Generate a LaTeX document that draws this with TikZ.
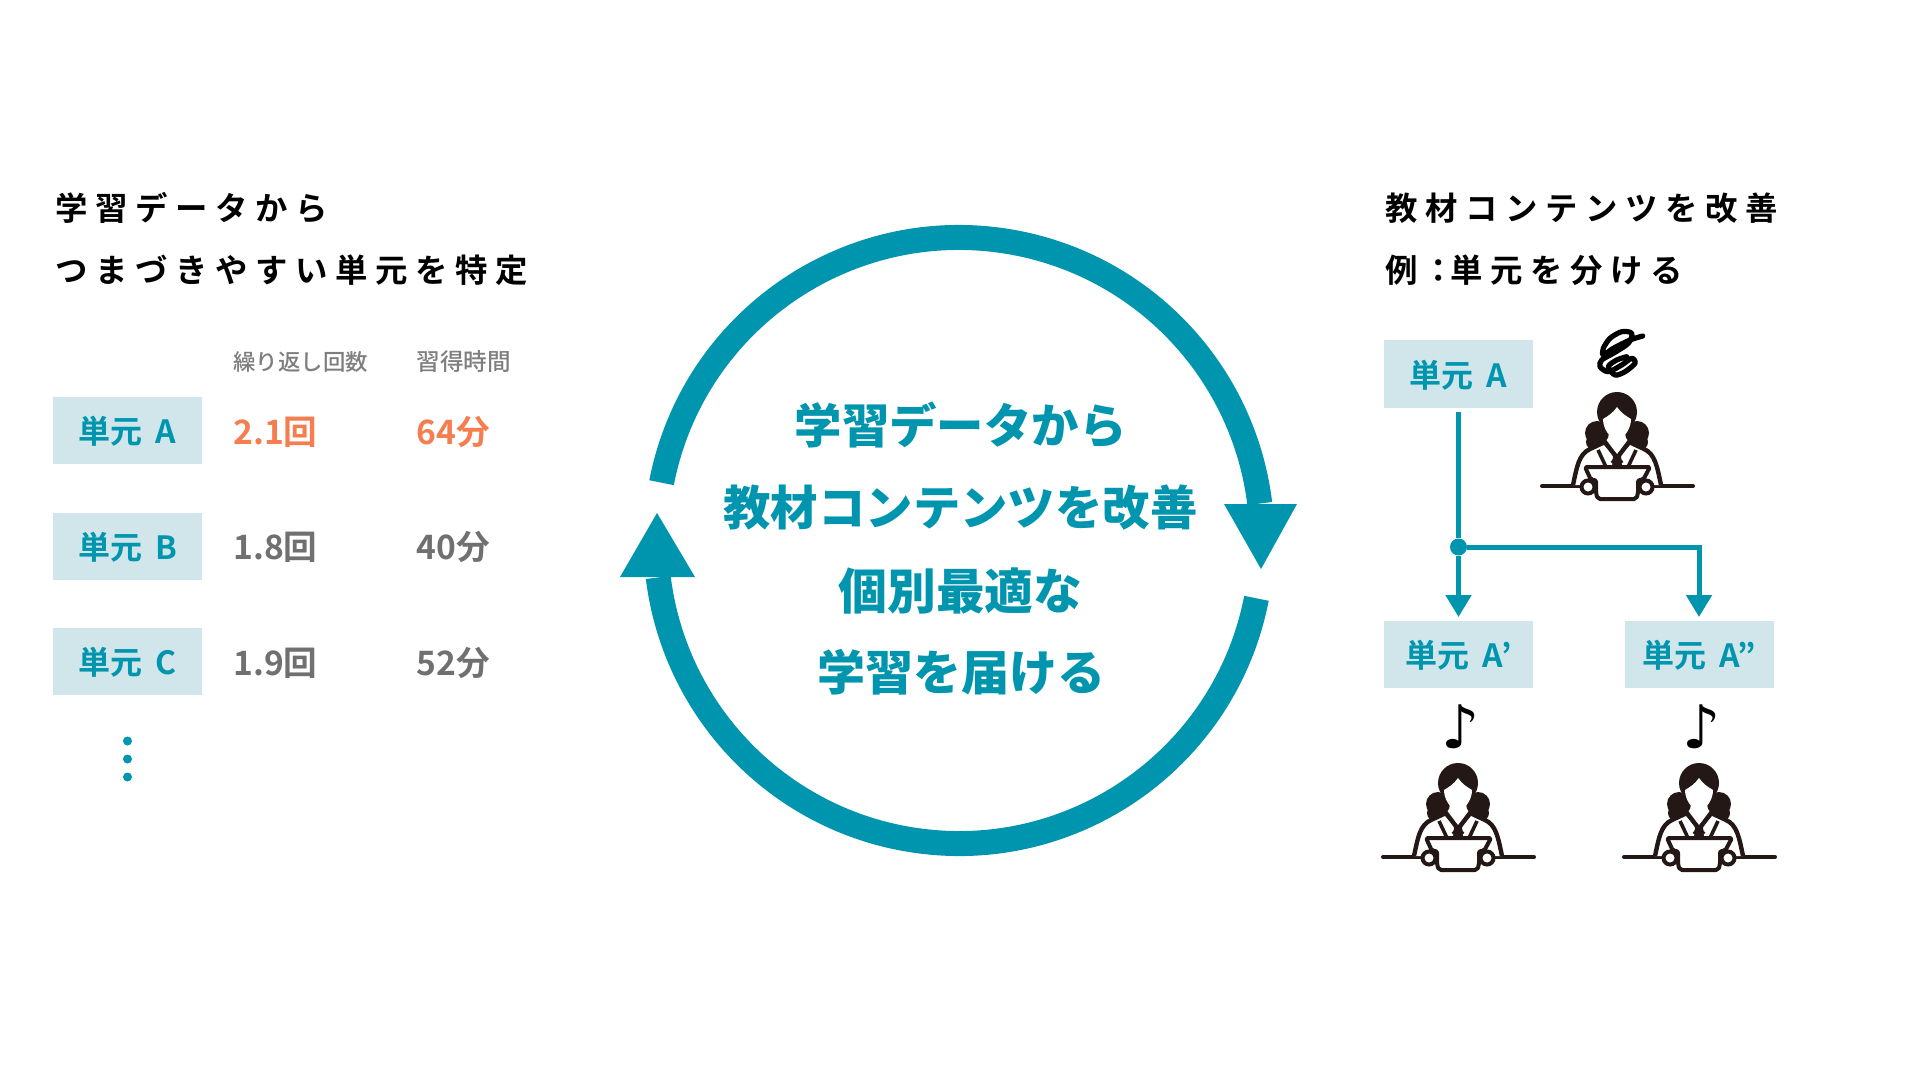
\documentclass[tikz,border=0pt]{standalone}
\usepackage{fontspec}
\usepackage{xcolor}
\usepackage{tikz}
\usetikzlibrary{arrows.meta}
\setmainfont{Noto Sans CJK JP Medium}
\newfontfamily\labelfont{Noto Sans CJK JP Bold}
\newfontfamily\headfont[LetterSpace=23.5]{Noto Sans CJK JP Bold}
\newfontfamily\hubfont{Noto Sans CJK JP Black}
\newfontfamily\notefont{DejaVu Sans}
\definecolor{tealmain}{HTML}{0095AE}
\definecolor{tealpale}{HTML}{D0E6EA}
\definecolor{orangehi}{HTML}{F47E50}
\definecolor{graytext}{HTML}{707070}
\definecolor{inkdark}{HTML}{231815}
\tikzset{
    unitbox/.style={fill=tealpale, text=tealmain, minimum width=74.5pt, minimum height=33.5pt, inner sep=0pt, outer sep=2pt, text height=15pt, text depth=2pt, font=\labelfont\fontsize{16}{16}\selectfont},
    headtext/.style={anchor=base west, inner sep=0pt, font=\headfont\fontsize{16.2}{16.2}\selectfont},
    coltext/.style={anchor=base west, inner sep=0pt, text=graytext!90, font=\fontsize{11.2}{11.2}\selectfont},
    valtext/.style={anchor=base west, inner sep=0pt, text=graytext, font=\labelfont\fontsize{16.8}{16.8}\selectfont},
    hitext/.style={valtext, text=orangehi},
    hubtext/.style={inner sep=0pt, text=tealmain, font=\hubfont\fontsize{23.7}{23.7}\selectfont},
    notetext/.style={inner sep=0pt, font=\notefont\fontsize{30}{30}\selectfont},
    link/.style={draw=tealmain, line width=2.5pt},
    linkhead/.style={link, -{Triangle[length=11pt, width=12.5pt]}},
    pics/deskperson/.style={code={
        % desk
        \draw[inkdark, line width=2pt, line cap=round] (-75,0) -- (76,0);
        % hair
        \fill[inkdark] (0,-74) circle (20);
        \fill[inkdark] (-20,-53) circle (12) (20,-53) circle (12) (-23,-44) circle (8) (23,-44) circle (8);
        % body
        \draw[inkdark, line width=2.2pt, fill=white] (-44,-1) .. controls (-40,-20) and (-38,-32) .. (-27,-37) -- (-12,-44) -- (0,-28) -- (12,-44) -- (27,-37) .. controls (38,-32) and (40,-20) .. (44,-1);
        \draw[inkdark, line width=1.8pt] (-13,-44) -- (5,-23) (13,-44) -- (-5,-23) (-19,-36) -- (-11,-19) (19,-36) -- (11,-19);
        \fill[inkdark] (-4,-30) -- (4,-30) -- (5,-19) -- (-5,-19) -- cycle;
        % face
        \fill[white] (0,-79) .. controls (-4,-73) and (-9,-70) .. (-14,-67) .. controls (-14,-58) and (-8,-48) .. (0,-46) .. controls (8,-48) and (14,-58) .. (14,-67) .. controls (9,-70) and (4,-73) .. (0,-79);
        % tablet
        \draw[inkdark, line width=2pt, line join=round, rounded corners=1pt, fill=white] (-32,-19) -- (33,-19) -- (26,-6) -- (21,-6) -- (21,8) -- (19,13) -- (-19,13) -- (-21,8) -- (-21,-6) -- (-26,-6) -- cycle;
        \draw[inkdark, line width=2pt, fill=white] (-29,1) circle (6.5) (29,1) circle (6.5);
    }},
}
\begin{document}
\begin{tikzpicture}[x=0.5pt, y=-0.5pt]
    \useasboundingbox (0,0) rectangle (1920,1080);

    % left column
    \node[headtext] (lefthead1) at (55,221) {学習データから};
    \node[headtext] (lefthead2) at (55,283) {つまづきやすい単元を特定};
    \node[coltext] (colrepeat) at (233,371) {繰り返し回数};
    \node[coltext, font=\fontsize{11.8}{11.8}\selectfont] (coltime) at (416,371) {習得時間};

    \node[unitbox] (unitA) at (127.5,430.5) {単元\kern6.5pt A};
    \node[unitbox] (unitB) at (127.5,546) {単元\kern6.5pt B};
    \node[unitbox] (unitC) at (127.5,661.5) {単元\kern6.5pt C};
    \node[hitext] (repeatA) at (233,444) {2.1回};
    \node[hitext] (timeA) at (416,444) {64分};
    \node[valtext] (repeatB) at (233,559) {1.8回};
    \node[valtext] (timeB) at (416,559) {40分};
    \node[valtext] (repeatC) at (233,675) {1.9回};
    \node[valtext] (timeC) at (416,675) {52分};
    \fill[tealmain] (127.5,741) circle (4.5) (127.5,759) circle (4.5) (127.5,777) circle (4.5);

    % centre cycle
    \coordinate (hub) at (959,540.5);
    \draw[tealmain, line width=12.5pt] (hub) ++(191:303) arc[start angle=191, end angle=353, radius=303];
    \draw[tealmain, line width=12.5pt] (hub) ++(11:303) arc[start angle=11, end angle=173, radius=303];
    \fill[tealmain] (1224,504) -- (1297,504) -- (1261,569) -- cycle;
    \fill[tealmain] (620,577) -- (695,577) -- (657,513) -- cycle;
    \node[hubtext] (hubline1) at (960.5,425) {学習データから};
    \node[hubtext] (hubline2) at (960.5,507.5) {教材コンテンツを改善};
    \node[hubtext, font=\hubfont\fontsize{24.4}{24.4}\selectfont] (hubline3) at (960.5,591) {個別最適な};
    \node[hubtext, font=\hubfont\fontsize{24}{24}\selectfont] (hubline4) at (961.5,672.5) {学習を届ける};

    % right column
    \node[headtext] (righthead1) at (1385,221) {教材コンテンツを改善};
    \node[headtext] (righthead2) at (1385,283) {例\kern2.3pt ：\kern-2.3pt 単元を分ける};

    \node[unitbox] (splitA) at (1458.5,374) {単元\kern6.5pt A};
    \node[unitbox] (splitB) at (1458.5,654.5) {単元\kern6.5pt A’};
    \node[unitbox] (splitC) at (1699,654.5) {単元\kern6.5pt A”};
    \node[fill=tealmain, circle, minimum size=8.5pt, inner sep=0pt] (fork) at (1458.5,547) {};
    \draw[link] (splitA) -- (fork);
    \draw[linkhead] (fork) -- (splitB);
    \draw[linkhead] (fork) -| (splitC);

    % people
    \pic at (1617,486) {deskperson};
    \pic at (1458,857) {deskperson};
    \pic at (1699,857) {deskperson};
    \node[notetext] (noteB) at (1461,727) {♪};
    \node[notetext] (noteC) at (1702,727) {♪};
    \draw[line width=2.6pt, line cap=round, line join=round] plot[smooth] coordinates {(1642.7,336) (1630,340) (1613.3,348.3) (1603.3,355) (1603.3,348.3) (1610,338.3) (1621.7,331.7) (1631.7,333.3) (1628.3,343.3) (1613.3,353.3) (1601.7,360) (1600,366.7) (1608.3,371.7) (1621.7,365) (1631.7,358.3) (1635,363.3) (1625,371.7) (1615,375) (1608.3,366.7) (1616.7,360) (1626.7,356.7)};
\end{tikzpicture}
\end{document}
